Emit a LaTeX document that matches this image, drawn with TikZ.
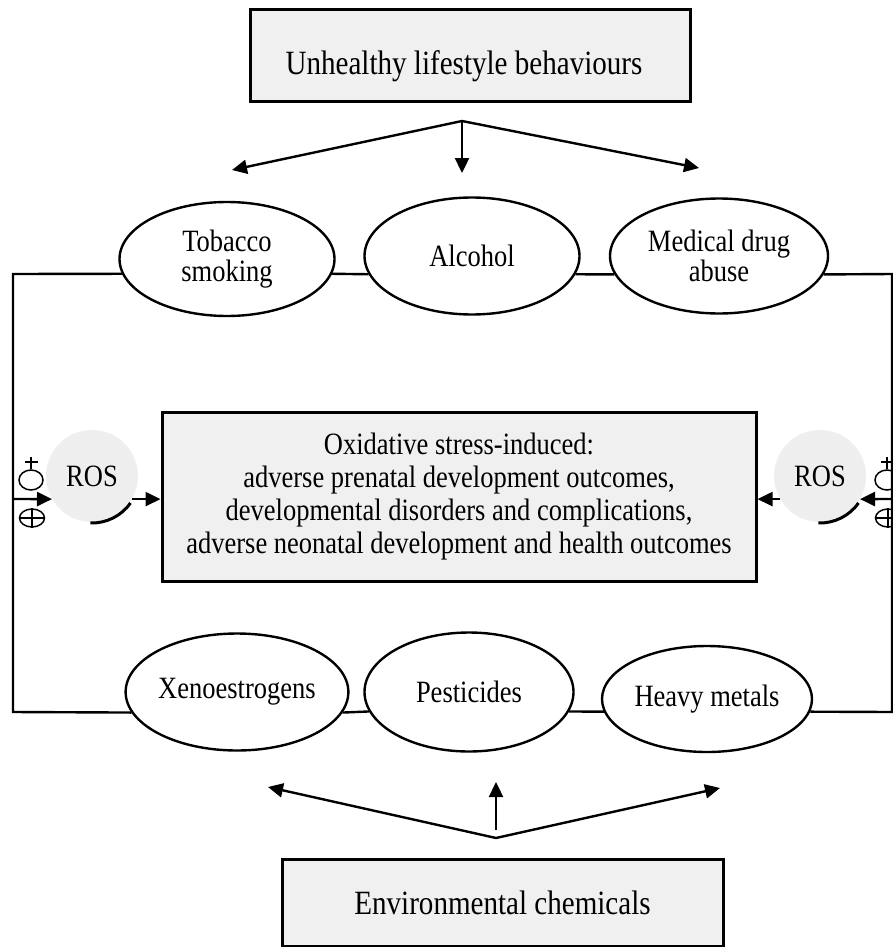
\documentclass[tikz,border=0pt]{standalone}
\usepackage{fontspec}
\setmainfont{Liberation Serif}[FakeStretch=0.855]
\usetikzlibrary{arrows.meta,shapes.geometric}
\definecolor{boxgray}{HTML}{F0F0F0}
\definecolor{rosgray}{HTML}{EEEEEE}
\begin{document}
\begin{tikzpicture}[x=1pt,y=-1pt,
  boxnode/.style={draw=black, line width=3pt, fill=boxgray, rectangle, inner sep=0pt},
  bigtxt/.style={font=\fontsize{34pt}{36pt}\selectfont, inner sep=0pt, align=center},
  oval/.style={draw=black, line width=2.4pt, fill=white, ellipse, inner sep=0pt, align=center, font=\fontsize{31pt}{30pt}\selectfont},
  rosnode/.style={circle, fill=rosgray, inner sep=0pt, minimum size=92pt, font=\fontsize{31pt}{33pt}\selectfont},
  ringline/.style={line width=2.4pt},
  arr/.style={line width=2.4pt, -{Triangle[length=15pt,width=14pt]}},
  darr/.style={line width=2.4pt, {Triangle[length=15pt,width=14pt]}-{Triangle[length=15pt,width=14pt]}, line join=miter},
  sym/.style={draw=black, line width=1.5pt, ellipse, inner sep=0pt},
  symline/.style={line width=1.5pt}
]
\useasboundingbox (0,0) rectangle (893,947);

\coordinate (lt) at (13,274);
\coordinate (lb) at (13,712);
\coordinate (rt) at (892,274);
\coordinate (rb) at (892,712);
\coordinate (lm) at (13,499);
\coordinate (rm) at (893,499);

% boxes
\node[boxnode, minimum width=440pt, minimum height=92pt] (top) at (470,56) {};
\node[bigtxt] (toptxt) at (464,66) {Unhealthy lifestyle behaviours};
\node[boxnode, minimum width=441pt, minimum height=87pt, bigtxt] (bot) at (502.5,902.5) {Environmental chemicals};
\node[boxnode, minimum width=594pt, minimum height=169pt, align=center, font=\fontsize{31pt}{33pt}\selectfont] (main) at (459,496.5)
  {Oxidative stress-induced:\\adverse prenatal development outcomes,\\developmental disorders and complications,\\adverse neonatal development and health outcomes};

% ovals
\node[oval, minimum width=215pt, minimum height=114pt] (tob) at (227,259) {Tobacco\\smoking};
\node[oval, minimum width=215pt, minimum height=117pt] (alc) at (472,256) {Alcohol};
\node[oval, minimum width=218pt, minimum height=115pt] (med) at (719,256) {Medical drug\\abuse};
\node[oval, minimum width=209pt, minimum height=117pt] (xen) at (237,692) {Xenoestrogens};
\node[oval, minimum width=209pt, minimum height=119pt] (pes) at (469,692) {Pesticides};
\node[oval, minimum width=210pt, minimum height=106pt] (hea) at (707,699) {Heavy metals};

% ring connectors
\draw[ringline] (tob.188) -- (lt) -- (lb) -- (xen.191.5);
\draw[ringline] (tob.-8) -- (alc.190);
\draw[ringline] (alc.-10) -- (med.190);
\draw[ringline] (med.-10) -- (rt) -- (rb) -- (hea.-7);
\draw[ringline] (xen.-11.5) -- (pes.191.5);
\draw[ringline] (pes.-11.5) -- (hea.187);

% ROS circles
\node[rosnode] (rosl) at (92,476) {ROS};
\node[rosnode] (rosr) at (820,476) {ROS};
\draw[line width=3pt] (rosl.center) ++(35:47) arc[start angle=35, end angle=92, radius=47];
\draw[line width=3pt] (rosr.center) ++(35:47) arc[start angle=35, end angle=92, radius=47];

% ROS arrows
\draw[arr] (lm) -- (rosl.210);
\draw[arr] (rosl.-30) -- (rosl.-30 -| main.west);
\draw[arr] (rm) -- (rosr.-30);
\draw[arr] (rosr.210) -- (rosr.210 -| main.east);

% signs, left
\node[sym, minimum width=24pt, minimum height=20pt] (ol) at (31,480) {};
\draw[symline] (ol.north) -- ++(0,-12);
\draw[symline] (25,462) -- (38,462);
\node[sym, minimum width=25pt, minimum height=18pt] (pl) at (32,518) {};
\draw[symline] (pl.west) -- (pl.east);
\draw[symline] (pl.north) -- (pl.south);
% signs, right
\node[sym, minimum width=24pt, minimum height=20pt] (or) at (887,480) {};
\draw[symline] (or.north) -- ++(0,-12);
\draw[symline] (881,462) -- (894,462);
\node[sym, minimum width=25pt, minimum height=18pt] (pr) at (888,518) {};
\draw[symline] (pr.west) -- (pr.east);
\draw[symline] (pr.north) -- (pr.south);

% top arrows
\coordinate (tsplit) at (462,121);
\coordinate (tL) at (232,170);
\coordinate (tM) at (462,173);
\coordinate (tR) at (699,168);
\draw[darr] (tL) -- (tsplit) -- (tR);
\draw[arr] (tsplit) -- (tM);

% bottom arrows
\coordinate (bsplit) at (496,838);
\coordinate (bL) at (268,787);
\coordinate (bR) at (720,788);
\coordinate (bMs) at (496,830);
\coordinate (bM) at (496,782);
\draw[darr] (bL) -- (bsplit) -- (bR);
\draw[arr] (bMs) -- (bM);
\end{tikzpicture}
\end{document}
